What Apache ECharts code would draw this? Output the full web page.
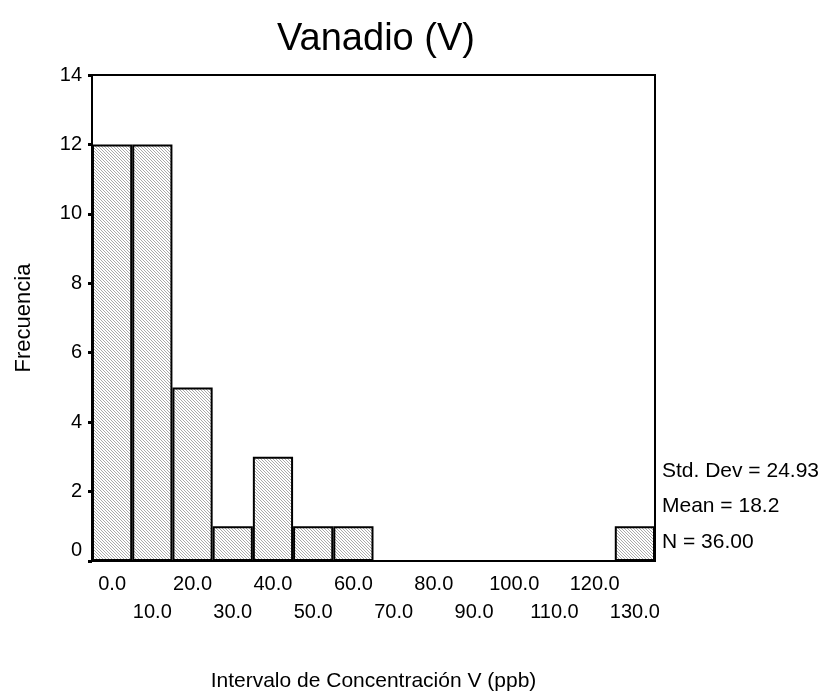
<!DOCTYPE html>
<html>
<head>
<meta charset="utf-8">
<script src="https://cdn.jsdelivr.net/npm/echarts@6/dist/echarts.min.js"></script>
<style>html,body{margin:0;padding:0;background:#fff;}#c{width:823px;height:697px;}</style>
</head>
<body>
<div id="c"></div>
<script>
const categories = ['0.0','10.0','20.0','30.0','40.0','50.0','60.0','70.0','80.0','90.0','100.0','110.0','120.0','130.0'];
const frequencies = [12, 12, 5, 1, 3, 1, 1, 0, 0, 0, 0, 0, 0, 1];
const yTicks = [0, 2, 4, 6, 8, 10, 12, 14];
const statsLines = ['Std. Dev = 24.93', 'Mean = 18.2', 'N = 36.00'];
const titleText = 'Vanadio (V)';
const xName = 'Intervalo de Concentración V (ppb)';
const yName = 'Frecuencia';

const FONT = 'Liberation Sans, Arial, sans-serif';

// hatch pattern
const tile = document.createElement('canvas');
tile.width = 3; tile.height = 3;
const tctx = tile.getContext('2d');
tctx.fillStyle = '#ffffff';
tctx.fillRect(0, 0, 3, 3);
tctx.fillStyle = '#aaaaaa';
for (let i = 0; i < 3; i++) tctx.fillRect(i, i, 1, 1);

const chart = echarts.init(document.getElementById('c'), null, {renderer: 'canvas'});
chart.setOption({
  backgroundColor: '#ffffff',
  animation: false,
  title: {
    text: titleText,
    left: 371, top: 16, textAlign: 'center',
    textStyle: {fontFamily: FONT, fontSize: 38, fontWeight: 'normal', color: '#000'}
  },
  grid: {left: 92, right: 168, top: 75, bottom: 135, show: true, borderColor: '#000', borderWidth: 2, backgroundColor: 'transparent'},
  xAxis: {
    type: 'category',
    data: categories,
    boundaryGap: true,
    name: xName,
    nameLocation: 'middle',
    nameGap: 110,
    nameTextStyle: {fontFamily: FONT, fontSize: 21, color: '#000'},
    axisLine: {lineStyle: {color: '#000', width: 2}},
    axisTick: {alignWithLabel: true, length: 2, lineStyle: {color: '#777', width: 5}},
    axisLabel: {
      interval: 0,
      margin: 9,
      fontFamily: FONT, fontSize: 20, color: '#000', lineHeight: 28,
      formatter: (v, i) => (i % 2 === 0 ? v : '\n' + v)
    },
    splitLine: {show: false}
  },
  yAxis: {
    type: 'value',
    min: 0, max: 14, interval: 2,
    name: yName,
    nameLocation: 'middle',
    nameGap: 57,
    nameTextStyle: {fontFamily: FONT, fontSize: 22, color: '#000'},
    axisLine: {show: true, lineStyle: {color: '#000', width: 2}},
    axisTick: {show: true, length: 4, lineStyle: {color: '#000', width: 3}},
    axisLabel: {
      margin: 10,
      fontFamily: FONT, fontSize: 20, color: '#000',
      formatter: v => (yTicks.indexOf(v) === 0 ? '{z|' + v + '}' : '{n|' + v + '}'),
      rich: {
        z: {fontFamily: FONT, fontSize: 20, color: '#000', padding: [0, 0, 22, 0]},
        n: {fontFamily: FONT, fontSize: 20, color: '#000'}
      }
    },
    splitLine: {show: false}
  },
  series: [{
    type: 'bar',
    data: frequencies,
    barCategoryGap: '0%',
    itemStyle: {color: {image: tile, repeat: 'repeat'}, borderColor: '#000', borderWidth: 2},
    emphasis: {disabled: true}
  }],
  graphic: statsLines.map((t, i) => ({
    type: 'text',
    left: 662,
    top: [461, 496, 532][i],
    style: {text: t, font: '21px ' + FONT, fill: '#000'}
  }))
});
</script>
</body>
</html>
